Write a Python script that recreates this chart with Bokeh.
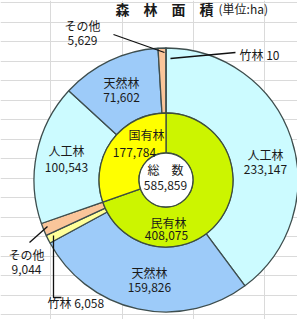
import numpy as np
from bokeh.plotting import figure
from bokeh.models import Range1d, FixedTicker
from bokeh.core.properties import value
from bokeh.embed import file_html
from bokeh.resources import INLINE

# ---------------- data ----------------
owner_names = ["民有林", "国有林"]
owner_values = [408075, 177784]
outer_owner = ["民有林", "民有林", "民有林", "民有林", "国有林", "国有林", "国有林", "国有林"]
outer_types = ["人工林", "天然林", "竹林", "その他", "人工林", "天然林", "その他", "竹林"]
outer_values = [233147, 159826, 6058, 9044, 100543, 71602, 5629, 10]
total_name = "総　数"
total_value = 585859
title_text = "森　林　面　積"
unit_text = "(単位:ha)"

# ---------------- styles / layout ----------------
type_colors = {"人工林": "#CCFBFF", "天然林": "#9DCBF9", "竹林": "#FFFF99", "その他": "#FAC59A"}
owner_colors = {"民有林": "#CCF500", "国有林": "#FFFF00"}
FONT = value("Noto Sans CJK JP")
W, H = 297, 319

def Y(py):
    return 327 - py

CX, CY = 173.5, Y(187.5)
R_OUT, R_MID, R_HOLE = 132, 67, 27

p = figure(width=W, height=H, x_range=Range1d(8, 305), y_range=Range1d(0, 319),
           output_backend="svg", toolbar_location=None, min_border=0)
p.outline_line_color = None
p.xaxis.visible = False
p.yaxis.visible = False
p.xgrid.ticker = FixedTicker(ticks=[58, 130, 201, 272])
p.ygrid.ticker = FixedTicker(ticks=[Y(10 + 19.5 * k) for k in range(17)])
p.grid.grid_line_color = "#DADADA"
p.grid.grid_line_width = 1

# outer ring
ov = np.array(outer_values, dtype=float)
tot = ov.sum()
cum = np.cumsum(ov)
prev = cum - ov
start = np.pi / 2 - 2 * np.pi * prev / tot
end = np.pi / 2 - 2 * np.pi * cum / tot
p.annular_wedge(x=CX, y=CY, inner_radius=R_MID, outer_radius=R_OUT,
                start_angle=list(start), end_angle=list(end), direction="clock",
                fill_color=[type_colors[t] for t in outer_types],
                line_color="#3E4E4E", line_width=1.3)

# inner ring
iv = np.array(owner_values, dtype=float)
icum = np.cumsum(iv)
iprev = icum - iv
istart = np.pi / 2 - 2 * np.pi * iprev / iv.sum()
iend = np.pi / 2 - 2 * np.pi * icum / iv.sum()
p.annular_wedge(x=CX, y=CY, inner_radius=R_HOLE, outer_radius=R_MID,
                start_angle=list(istart), end_angle=list(iend), direction="clock",
                fill_color=[owner_colors[o] for o in owner_names],
                line_color="#3E4E3E", line_width=1.3)
p.circle(x=[CX], y=[CY], radius=R_HOLE, fill_color="white",
         line_color="#3E4E3E", line_width=1.3)

def fmt(v):
    return f"{v:,}"

TXT = dict(text_font=FONT, text_font_size="12px", text_color="#1A1A1A",
           text_baseline="middle")

# outer labels (name, value) at reference positions
outer_pos = {0: (273, 162, 177), 1: (157, 280, 295), 3: (34, 262, 277),
             4: (74, 158, 175), 5: (129, 90, 105), 6: (90, 33, 48)}
xs, ys, ts = [], [], []
for i, (x, yn, yv) in outer_pos.items():
    xs += [x, x]
    ys += [Y(yn), Y(yv)]
    ts += [outer_types[i], fmt(outer_values[i])]
p.text(x=xs, y=ys, text=ts, text_align="center", **TXT)

# small slices with leader lines
p.text(x=[55], y=[Y(310)], text=[f"{outer_types[2]} {fmt(outer_values[2])}"],
       text_align="left", **TXT)
p.text(x=[247], y=[Y(62)], text=[f"{outer_types[7]} {fmt(outer_values[7])}"],
       text_align="left", **TXT)
p.line(x=[121, 172], y=[Y(42), Y(60)], line_color="#111", line_width=1.3)
p.line(x=[243, 178], y=[Y(60), Y(66)], line_color="#111", line_width=1.3)
p.line(x=[37, 55], y=[Y(250), Y(234)], line_color="#111", line_width=1.3)
p.line(x=[61, 61, 69], y=[Y(243), Y(305), Y(305)], line_color="#111", line_width=1.3)

# inner labels
p.text(x=[176, 174], y=[Y(230), Y(243)],
       text=[owner_names[0], fmt(owner_values[0])], text_align="center", **TXT)
p.text(x=[154, 142], y=[Y(142), Y(160)],
       text=[owner_names[1], fmt(owner_values[1])], text_align="center", **TXT)

# centre
p.text(x=[173, 173], y=[Y(177), Y(193)], text=[total_name, fmt(total_value)],
       text_align="center", **TXT)

# title
p.text(x=[172], y=[Y(16)], text=[title_text], text_align="center",
       text_font=FONT, text_font_size="14px", text_font_style="bold",
       text_color="#1A1A1A", text_baseline="middle")
p.text(x=[226], y=[Y(16)], text=[unit_text], text_align="left",
       text_font=FONT, text_font_size="12px", text_color="#1A1A1A",
       text_baseline="middle")

open("out.html", "w").write(file_html(p, INLINE))
